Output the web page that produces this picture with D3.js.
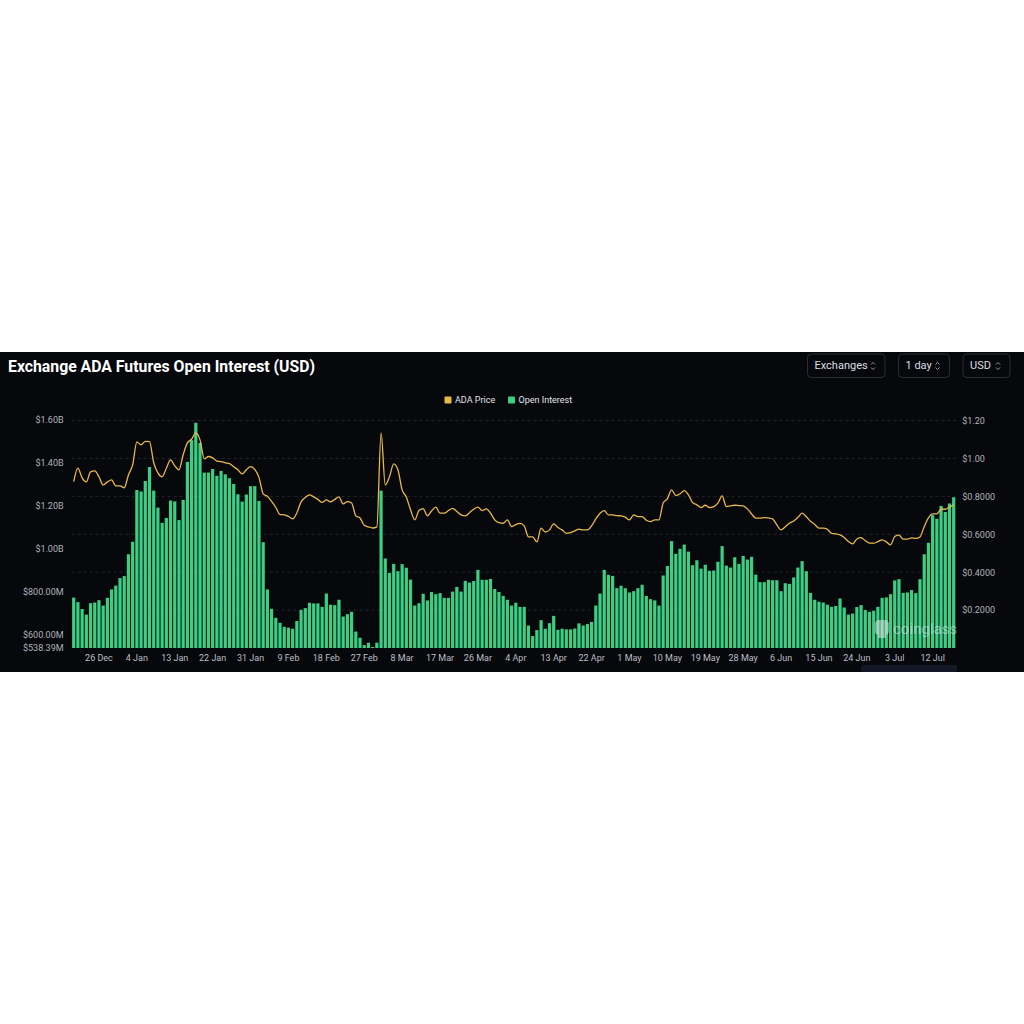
<!DOCTYPE html>
<html>
<head>
<meta charset="utf-8">
<script src="https://cdn.jsdelivr.net/npm/d3@7"></script>
<style>
  body { margin: 0; background: #fff; }
  svg { display: block; }
  text { font-family: Roboto, "Noto Sans", sans-serif; }
</style>
</head>
<body>
<svg id="chart" width="1024" height="1024"></svg>
<script>
// daily series, 20 Dec 2024 .. 17 Jul 2025
const startDay = new Date(2024, 11, 20);
const endDay = new Date(2025, 6, 18);

// open interest, millions USD
const openInterest = [
  773, 752, 720, 694, 747, 750, 761, 736, 772, 811,
  829, 864, 873, 975, 1033, 1274, 1267, 1316, 1381, 1271,
  1192, 1121, 1144, 1225, 1221, 1134, 1228, 1405, 1506, 1587,
  1493, 1355, 1355, 1372, 1340, 1363, 1347, 1329, 1302, 1254,
  1220, 1253, 1292, 1292, 1223, 1031, 811, 721, 679, 656,
  637, 633, 628, 664, 716, 724, 749, 746, 746, 730,
  792, 740, 738, 763, 685, 696, 707, 615, 586, 552,
  563, 543, 563, 1271, 955, 888, 930, 896, 929, 912,
  857, 736, 747, 791, 760, 799, 789, 794, 772, 772,
  801, 823, 801, 851, 843, 850, 902, 856, 856, 860,
  813, 799, 781, 763, 736, 749, 730, 730, 643, 594,
  622, 668, 628, 654, 688, 623, 628, 625, 625, 629,
  653, 643, 650, 660, 736, 792, 902, 879, 874, 817,
  828, 817, 797, 803, 817, 833, 781, 766, 760, 736,
  876, 920, 1036, 977, 1000, 1020, 987, 924, 947, 908,
  926, 898, 899, 940, 1013, 922, 913, 961, 930, 967,
  950, 963, 880, 845, 845, 856, 854, 854, 803, 840,
  837, 867, 913, 943, 896, 795, 763, 754, 750, 740,
  730, 734, 769, 727, 694, 699, 729, 738, 715, 707,
  712, 730, 772, 774, 789, 853, 859, 795, 797, 808,
  794, 859, 975, 1028, 1157, 1140, 1200, 1172, 1211, 1240
];

// ADA price, USD
const adaPrice = [
  0.878, 0.949, 0.897, 0.876, 0.929, 0.934, 0.903, 0.860, 0.876, 0.887,
  0.855, 0.855, 0.845, 0.913, 0.966, 1.087, 1.072, 1.090, 1.089, 0.977,
  0.924, 0.903, 0.948, 0.992, 0.961, 0.940, 1.019, 1.082, 1.101, 1.135,
  1.098, 0.998, 1.010, 1.003, 0.986, 0.983, 0.977, 0.973, 0.956, 0.940,
  0.918, 0.940, 0.957, 0.942, 0.900, 0.813, 0.800, 0.773, 0.741, 0.704,
  0.702, 0.694, 0.681, 0.713, 0.771, 0.794, 0.808, 0.797, 0.784, 0.768,
  0.781, 0.771, 0.784, 0.797, 0.760, 0.772, 0.765, 0.697, 0.686, 0.647,
  0.639, 0.633, 0.639, 1.135, 0.860, 0.904, 0.971, 0.940, 0.834, 0.796,
  0.729, 0.676, 0.725, 0.735, 0.697, 0.723, 0.743, 0.711, 0.711, 0.725,
  0.737, 0.720, 0.702, 0.697, 0.714, 0.732, 0.743, 0.725, 0.734, 0.711,
  0.676, 0.661, 0.658, 0.676, 0.640, 0.651, 0.657, 0.644, 0.586, 0.586,
  0.560, 0.632, 0.612, 0.623, 0.655, 0.636, 0.623, 0.605, 0.609, 0.618,
  0.627, 0.623, 0.623, 0.644, 0.681, 0.711, 0.725, 0.702, 0.702, 0.698,
  0.697, 0.690, 0.676, 0.702, 0.693, 0.693, 0.674, 0.667, 0.676, 0.676,
  0.765, 0.787, 0.834, 0.804, 0.813, 0.830, 0.808, 0.767, 0.755, 0.741,
  0.753, 0.741, 0.746, 0.764, 0.802, 0.746, 0.750, 0.753, 0.751, 0.750,
  0.734, 0.707, 0.685, 0.685, 0.688, 0.686, 0.681, 0.649, 0.623, 0.640,
  0.658, 0.670, 0.689, 0.711, 0.692, 0.668, 0.652, 0.632, 0.632, 0.626,
  0.605, 0.602, 0.597, 0.583, 0.562, 0.549, 0.575, 0.582, 0.566, 0.553,
  0.553, 0.561, 0.570, 0.560, 0.544, 0.588, 0.595, 0.574, 0.574, 0.581,
  0.578, 0.586, 0.640, 0.686, 0.707, 0.707, 0.732, 0.732, 0.744, 0.755
];

const xTickLabels = ["26 Dec", "4 Jan", "13 Jan", "22 Jan", "31 Jan", "9 Feb", "18 Feb", "27 Feb",
  "8 Mar", "17 Mar", "26 Mar", "4 Apr", "13 Apr", "22 Apr", "1 May", "10 May", "19 May", "28 May",
  "6 Jun", "15 Jun", "24 Jun", "3 Jul", "12 Jul"];
const oiTicks = [538.39, 600, 800, 1000, 1200, 1400, 1600];
const oiTickLabels = ["$538.39M", "$600.00M", "$800.00M", "$1.00B", "$1.20B", "$1.40B", "$1.60B"];
const priceTicks = [0.2, 0.4, 0.6, 0.8, 1.0, 1.2];
const priceTickLabels = ["$0.2000", "$0.4000", "$0.6000", "$0.8000", "$1.00", "$1.20"];

const dates = d3.timeDay.range(startDay, endDay);
const fmt = d3.timeFormat("%-d %b");
const data = dates.map((d, i) => ({date: d, key: fmt(d), oi: openInterest[i], price: adaPrice[i]}));

const svg = d3.select("#chart");
const bg = "#07080c";
const plotTop = 420.5, plotBottom = 648, plotLeft = 71.6, plotRight = 955.8;

// dark panel
svg.append("rect").attr("x", 0).attr("y", 352).attr("width", 1024).attr("height", 320).attr("fill", bg);
svg.append("rect").attr("x", 861).attr("y", 665).attr("width", 96).attr("height", 7).attr("rx", 2)
  .attr("fill", "#121826");

// header
svg.append("text").attr("x", 8).attr("y", 372)
  .attr("font-size", 16).attr("font-weight", 700).attr("fill", "#fff")
  .attr("textLength", 307).attr("lengthAdjust", "spacingAndGlyphs")
  .text("Exchange ADA Futures Open Interest (USD)");

const buttons = [
  {label: "Exchanges", x: 807.5, w: 77.5},
  {label: "1 day", x: 898.5, w: 51},
  {label: "USD", x: 963, w: 47}
];
buttons.forEach(b => {
  const g = svg.append("g").attr("transform", `translate(${b.x},354)`);
  g.append("rect").attr("width", b.w).attr("height", 23.5).attr("rx", 4)
    .attr("fill", "none").attr("stroke", "#2a2d35").attr("stroke-width", 1);
  g.append("text").attr("x", 7).attr("y", 15.3).attr("font-size", 11).attr("fill", "#dcdde0").text(b.label);
  g.append("path").attr("transform", `translate(${b.w - 14},7.5)`)
    .attr("d", "M0,3 L2,1 L4,3 M0,6 L2,8 L4,6")
    .attr("fill", "none").attr("stroke", "#b8bac0").attr("stroke-width", 0.8);
});

// legend
const legend = [
  {label: "ADA Price", color: "#e8b94a", x: 444.5},
  {label: "Open Interest", color: "#3ccf83", x: 508}
];
legend.forEach(l => {
  svg.append("rect").attr("x", l.x).attr("y", 396.5).attr("width", 7).attr("height", 7).attr("rx", 1)
    .attr("fill", l.color);
  svg.append("text").attr("x", l.x + 10.5).attr("y", 403).attr("font-size", 9).attr("fill", "#e2e3e6")
    .text(l.label);
});

// scales
const x = d3.scaleBand().domain(data.map(d => d.key)).range([plotLeft, plotRight]).paddingInner(0.24).paddingOuter(0.12);
const yOI = d3.scaleLinear().domain([538.39, 1600]).range([plotBottom, plotTop - 0.5]);
const yPrice = d3.scaleLinear().domain([0, 1.2]).range([plotBottom, plotTop]);

// grid lines (from price axis)
svg.append("g")
  .selectAll("line").data(priceTicks).join("line")
  .attr("x1", plotLeft).attr("x2", plotRight)
  .attr("y1", d => yPrice(d)).attr("y2", d => yPrice(d))
  .attr("stroke", "#2a2e37").attr("stroke-width", 0.8).attr("stroke-dasharray", "3,3");

// bars
svg.append("g")
  .selectAll("rect").data(data).join("rect")
  .attr("x", d => x(d.key))
  .attr("width", x.bandwidth())
  .attr("y", d => yOI(d.oi))
  .attr("height", d => plotBottom - yOI(d.oi))
  .attr("fill", "#3ccf83");

// price line
const line = d3.line()
  .x(d => x(d.key) + x.bandwidth() / 2)
  .y(d => yPrice(d.price))
  .curve(d3.curveMonotoneX);
svg.append("path").datum(data)
  .attr("fill", "none").attr("stroke", "#e8b94a").attr("stroke-width", 1.3)
  .attr("d", line);

// left axis
const axL = svg.append("g").attr("transform", `translate(${plotLeft},0)`)
  .call(d3.axisLeft(yOI).tickValues(oiTicks).tickSize(0).tickPadding(8)
    .tickFormat((d, i) => oiTickLabels[i]));
axL.select(".domain").remove();
axL.selectAll("text").attr("font-size", 9).attr("fill", "#b0b3ba").attr("font-family", "Roboto, sans-serif");

// right axis
const axR = svg.append("g").attr("transform", `translate(${plotRight},0)`)
  .call(d3.axisRight(yPrice).tickValues(priceTicks).tickSize(0).tickPadding(6.5)
    .tickFormat((d, i) => priceTickLabels[i]));
axR.select(".domain").remove();
axR.selectAll("text").attr("font-size", 9).attr("fill", "#b0b3ba").attr("font-family", "Roboto, sans-serif");

// bottom axis
const axB = svg.append("g").attr("transform", `translate(0,${plotBottom})`)
  .call(d3.axisBottom(x).tickValues(xTickLabels).tickSize(0).tickPadding(7));
axB.select(".domain").remove();
axB.selectAll("text").attr("font-size", 9).attr("fill", "#bcbfc6").attr("font-family", "Roboto, sans-serif");

// watermark
const wm = svg.append("g").attr("opacity", 0.5);
wm.append("path")
  .attr("d", "M875,624 Q875,620 879,620 L885,620 Q889,620 889,624 L889,631 Q889,634 886,635 L886,638 L878,638 L878,635 Q875,634 875,631 Z")
  .attr("fill", "#e9ecef");
wm.append("text").attr("x", 893).attr("y", 634).attr("font-size", 15).attr("fill", "#e9ecef")
  .text("coinglass");
</script>
</body>
</html>
